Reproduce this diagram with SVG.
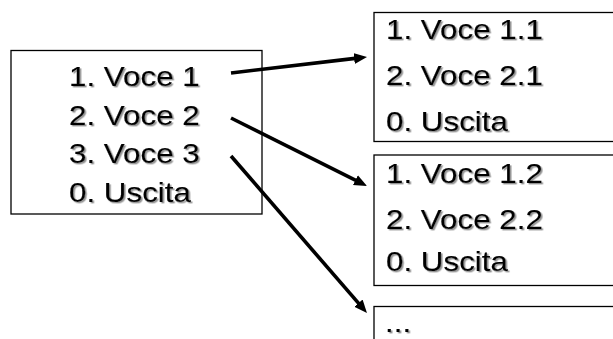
<svg xmlns="http://www.w3.org/2000/svg" width="613" height="339" viewBox="0 0 613 339">
<style>
.box{fill:#fff;stroke:#000;stroke-width:1.3}
.t{font-family:"Liberation Sans",Arial,sans-serif;font-size:28px;fill:#000;stroke:#000;stroke-width:0.15;filter:url(#sh)}
.conn{stroke:#000;stroke-width:3.6;fill:none;marker-end:url(#ah)}
</style>
<defs>
<filter id="sh" x="-10%" y="-30%" width="120%" height="160%">
<feDropShadow dx="1.4" dy="1.4" stdDeviation="0.6" flood-color="#777" flood-opacity="0.8"/>
</filter>
<marker id="ah" markerUnits="userSpaceOnUse" markerWidth="15" markerHeight="12" refX="1" refY="6" orient="auto" viewBox="0 0 15 12">
<path d="M0,0.5 L13,6 L0,11.5 z" fill="#000"/>
</marker>
</defs>
<g id="main-menu">
<rect class="box" x="11" y="50.5" width="251" height="163.5"/>
<text class="t" transform="translate(69,86) scale(1.12,1)">1. Voce 1</text>
<text class="t" transform="translate(69,124.5) scale(1.12,1)">2. Voce 2</text>
<text class="t" transform="translate(69,163) scale(1.12,1)">3. Voce 3</text>
<text class="t" transform="translate(69,201.5) scale(1.12,1)">0. Uscita</text>
</g>
<g id="submenu-1">
<rect class="box" x="374" y="12.5" width="260" height="129"/>
<text class="t" transform="translate(386,39) scale(1.12,1)">1. Voce 1.1</text>
<text class="t" transform="translate(386,85) scale(1.12,1)">2. Voce 2.1</text>
<text class="t" transform="translate(386,131) scale(1.12,1)">0. Uscita</text>
</g>
<g id="submenu-2">
<rect class="box" x="374" y="155" width="260" height="130.5"/>
<text class="t" transform="translate(386,183) scale(1.12,1)">1. Voce 1.2</text>
<text class="t" transform="translate(386,229) scale(1.12,1)">2. Voce 2.2</text>
<text class="t" transform="translate(386,271) scale(1.12,1)">0. Uscita</text>
</g>
<g id="submenu-3">
<rect class="box" x="374" y="306.5" width="260" height="60"/>
<text class="t" transform="translate(385,332) scale(1.12,1)">...</text>
</g>
<g id="connectors">
<line class="conn" x1="231" y1="73" x2="355.1" y2="58.4"/>
<line class="conn" x1="231" y1="118" x2="356.3" y2="180.6"/>
<line class="conn" x1="231" y1="156" x2="359.1" y2="303.9"/>
</g>
</svg>
